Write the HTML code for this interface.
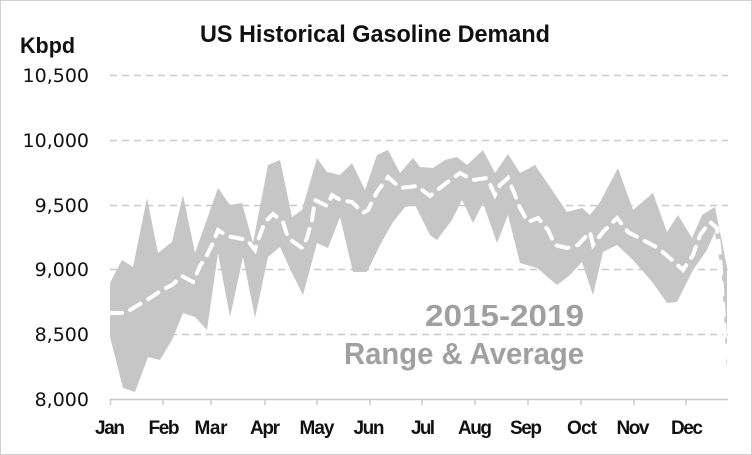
<!DOCTYPE html>
<html><head><meta charset="utf-8"><style>
html,body{margin:0;padding:0;background:#fff;}
svg{display:block;}
</style></head><body>
<svg width="752" height="455" viewBox="0 0 752 455" xmlns="http://www.w3.org/2000/svg">
<rect x="0.5" y="0.5" width="751" height="454" fill="#fff" stroke="#d0d0d0"/>
<text x="200" y="42" textLength="350" lengthAdjust="spacingAndGlyphs" font-family="Liberation Sans, sans-serif" font-weight="bold" font-size="24" fill="#111">US Historical Gasoline Demand</text>
<text x="20" y="53" textLength="55" lengthAdjust="spacingAndGlyphs" font-family="Liberation Sans, sans-serif" font-weight="bold" font-size="22" fill="#111">Kbpd</text>
<g font-family="DejaVu Sans, Liberation Sans, sans-serif" font-size="19" fill="#111" text-anchor="end">
<text x="89" y="82">10,500</text>
<text x="89" y="147">10,000</text>
<text x="89" y="212">9,500</text>
<text x="89" y="276">9,000</text>
<text x="89" y="341">8,500</text>
<text x="89" y="406">8,000</text>
</g>
<g stroke="#c8c8c8" stroke-width="1.5" stroke-dasharray="7 5">
<line x1="110" y1="75.5" x2="728" y2="75.5"/>
<line x1="110" y1="140.5" x2="728" y2="140.5"/>
<line x1="110" y1="205.5" x2="728" y2="205.5"/>
<line x1="110" y1="269.5" x2="728" y2="269.5"/>
<line x1="110" y1="334.5" x2="728" y2="334.5"/>
</g>
<polygon fill="#c6c6c6" points="110,283 122,260 133,267 147,198 158,253 172,242 183,195 195,253 218,188 230,205 242,203 253,243 268,165 280,160 292,217 302,210 317,158 327,172 340,175 352,163 365,190 377,155 388,150 400,173 413,158 420,167 433,168 445,160 457,157 467,165 483,150 495,173 508,154 520,173 535,165 567,212 582,208 590,215 600,202 618,168 633,210 653,193 667,232 678,215 692,238 702,215 715,207 727,267 727,373 722,277 715,232 707,250 693,270 677,302 667,303 653,283 633,260 617,245 603,252 593,295 582,262 570,275 557,285 537,268 520,263 508,215 497,243 483,203 473,223 462,200 452,220 437,240 430,235 415,205 405,207 393,222 380,245 367,272 353,272 340,217 328,248 317,243 303,295 292,273 280,247 268,257 255,318 243,257 230,317 218,253 207,330 195,317 183,313 172,340 160,360 148,357 135,392 123,388 110,337"/>
<polyline fill="none" stroke="#fff" stroke-width="4" stroke-linecap="round" stroke-dasharray="12 9" points="110,313 125,313 140,304 150,298 162,290 172,285 182,276 193,282 200,266 207,255 212,245 218,230 227,236 237,238 247,240 255,250 258,240 265,222 273,214 283,222 288,238 302,248 307,238 312,220 315,200 327,206 332,195 340,200 352,202 363,213 368,210 377,192 388,177 400,188 417,186 430,196 445,184 460,173 473,180 487,178 495,195 500,185 508,178 515,195 520,208 528,222 538,218 548,230 555,245 567,248 578,245 590,232 593,245 603,232 617,218 628,232 643,240 658,248 672,260 683,270 693,255 700,235 710,222 717,228 720,255 727,370"/>
<line x1="110" y1="399.5" x2="728" y2="399.5" stroke="#c8c8c8" stroke-width="1.5"/>
<g stroke="#c8c8c8" stroke-width="1.5">
<line x1="110.5" y1="399" x2="110.5" y2="405"/><line x1="163" y1="399" x2="163" y2="405"/><line x1="211" y1="399" x2="211" y2="405"/><line x1="265" y1="399" x2="265" y2="405"/><line x1="317" y1="399" x2="317" y2="405"/><line x1="370" y1="399" x2="370" y2="405"/><line x1="422" y1="399" x2="422" y2="405"/><line x1="475" y1="399" x2="475" y2="405"/><line x1="528" y1="399" x2="528" y2="405"/><line x1="581" y1="399" x2="581" y2="405"/><line x1="634" y1="399" x2="634" y2="405"/><line x1="686" y1="399" x2="686" y2="405"/>
</g>
<g font-family="Liberation Sans, sans-serif" font-weight="bold" font-size="19" fill="#111" text-anchor="middle" lengthAdjust="spacingAndGlyphs">
<text x="110" y="434" textLength="30">Jan</text><text x="164" y="434" textLength="31">Feb</text><text x="211" y="434" textLength="33">Mar</text><text x="265" y="434" textLength="30">Apr</text><text x="317" y="434" textLength="35">May</text><text x="369" y="434" textLength="31">Jun</text><text x="423" y="434" textLength="24">Jul</text><text x="475" y="434" textLength="34">Aug</text><text x="526" y="434" textLength="32">Sep</text><text x="582" y="434" textLength="30">Oct</text><text x="633" y="434" textLength="33">Nov</text><text x="687" y="434" textLength="32">Dec</text>
</g>
<g font-family="Liberation Sans, sans-serif" font-weight="bold" font-size="31" fill="#a0a0a0">
<text x="425" y="326" textLength="159" lengthAdjust="spacingAndGlyphs">2015-2019</text>
<text x="344" y="364" textLength="240" lengthAdjust="spacingAndGlyphs">Range &amp; Average</text>
</g>
</svg>
</body></html>
